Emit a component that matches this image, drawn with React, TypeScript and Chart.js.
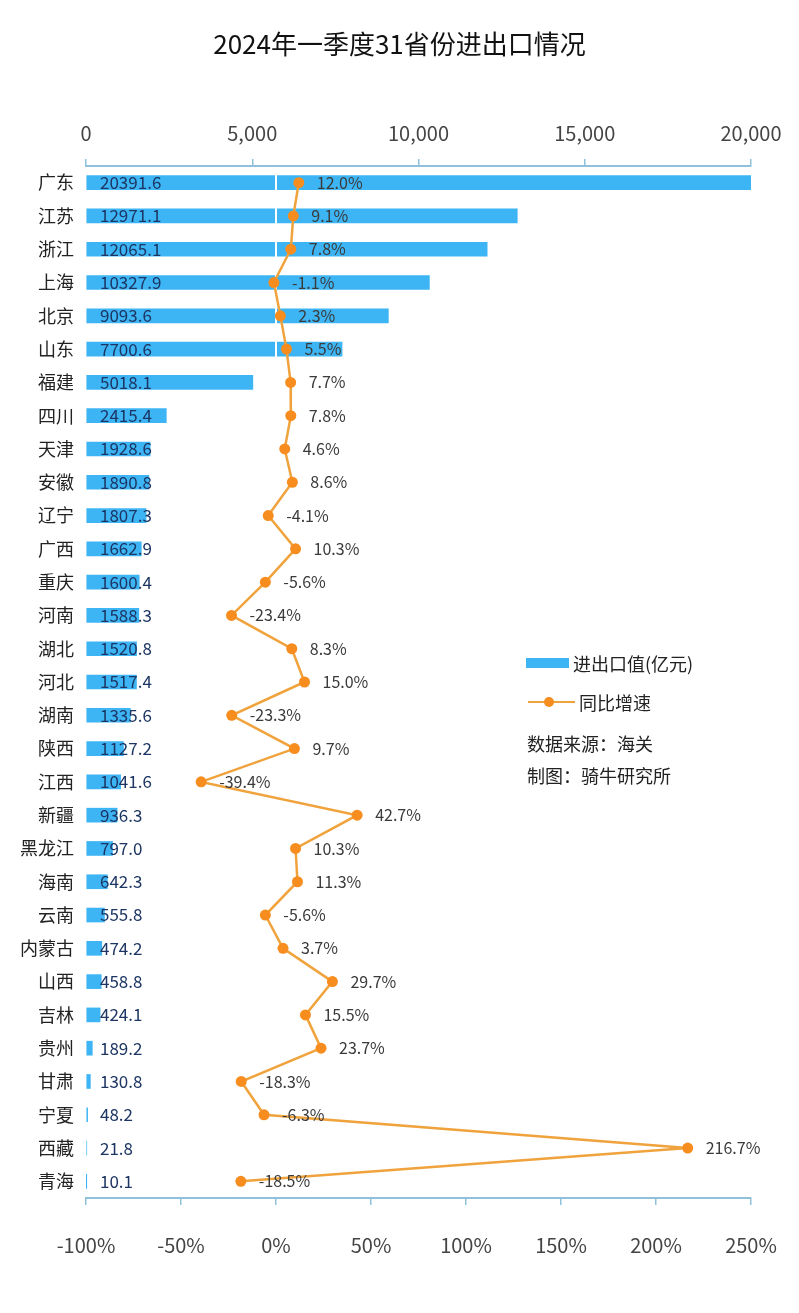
import { useEffect, useRef } from 'react';
import { Chart, registerables } from 'chart.js';

Chart.register(...registerables);

const FONT = "'Noto Sans CJK SC', 'Noto Sans', sans-serif";

const titleText = '2024年一季度31省份进出口情况';

const provinces = [
  '广东', '江苏', '浙江', '上海', '北京', '山东', '福建', '四川', '天津', '安徽',
  '辽宁', '广西', '重庆', '河南', '湖北', '河北', '湖南', '陕西', '江西', '新疆',
  '黑龙江', '海南', '云南', '内蒙古', '山西', '吉林', '贵州', '甘肃', '宁夏', '西藏', '青海',
];

const tradeValues = [
  20391.6, 12971.1, 12065.1, 10327.9, 9093.6, 7700.6, 5018.1, 2415.4, 1928.6, 1890.8,
  1807.3, 1662.9, 1600.4, 1588.3, 1520.8, 1517.4, 1335.6, 1127.2, 1041.6, 936.3,
  797.0, 642.3, 555.8, 474.2, 458.8, 424.1, 189.2, 130.8, 48.2, 21.8, 10.1,
];

const growthRates = [
  12.0, 9.1, 7.8, -1.1, 2.3, 5.5, 7.7, 7.8, 4.6, 8.6,
  -4.1, 10.3, -5.6, -23.4, 8.3, 15.0, -23.3, 9.7, -39.4, 42.7,
  10.3, 11.3, -5.6, 3.7, 29.7, 15.5, 23.7, -18.3, -6.3, 216.7, -18.5,
];

const valueAxisTicks = [0, 5000, 10000, 15000, 20000];
const growthAxisTicks = [-100, -50, 0, 50, 100, 150, 200, 250];

const legendBarLabel = '进出口值(亿元)';
const legendLineLabel = '同比增速';
const sourceNote = '数据来源：海关';
const makerNote = '制图：骑牛研究所';

const AXIS_COLOR = '#8fc2da';
const BAR_COLOR = '#3db5f4';
const LINE_COLOR = '#f0a33c';
const POINT_COLOR = '#f68d1e';

export default function App() {
  const ref = useRef<HTMLCanvasElement>(null);

  useEffect(() => {
    if (!ref.current) return;

    const labelPlugin = {
      id: 'valueLabels',
      afterDatasetDraw(chart: any, args: any) {
        if (args.index !== 0) return;
        const ctx = chart.ctx;
        const area = chart.chartArea;
        const x0 = chart.scales.x2.getPixelForValue(0);
        ctx.save();
        ctx.strokeStyle = '#ffffff';
        ctx.lineWidth = 2;
        ctx.beginPath();
        ctx.moveTo(x0, area.top + 2);
        ctx.lineTo(x0, area.bottom - 2);
        ctx.stroke();
        ctx.font = `17px ${FONT}`;
        ctx.fillStyle = '#1c3563';
        ctx.textAlign = 'left';
        ctx.textBaseline = 'middle';
        args.meta.data.forEach((el: any, i: number) => {
          ctx.fillText(tradeValues[i].toFixed(1), area.left + 14, el.y);
        });
        ctx.restore();
      },
      afterDatasetsDraw(chart: any) {
        const ctx = chart.ctx;
        const meta = chart.getDatasetMeta(1);
        ctx.save();
        ctx.font = `16px ${FONT}`;
        ctx.fillStyle = '#3a3a3a';
        ctx.textAlign = 'left';
        ctx.textBaseline = 'middle';
        meta.data.forEach((pt: any, i: number) => {
          ctx.fillText(growthRates[i].toFixed(1) + '%', pt.x + 18, pt.y);
        });
        ctx.restore();
      },
    };

    const chart = new Chart(ref.current, {
      type: 'bar',
      data: {
        labels: provinces,
        datasets: [
          {
            type: 'bar',
            label: legendBarLabel,
            data: tradeValues,
            xAxisID: 'x',
            yAxisID: 'y',
            backgroundColor: BAR_COLOR,
            barThickness: 14,
            order: 1,
          },
          {
            type: 'line',
            label: legendLineLabel,
            data: growthRates,
            xAxisID: 'x2',
            yAxisID: 'y',
            borderColor: LINE_COLOR,
            borderWidth: 2.5,
            pointRadius: 5.5,
            pointBackgroundColor: POINT_COLOR,
            pointBorderColor: POINT_COLOR,
            pointBorderWidth: 0,
            tension: 0,
            order: 0,
          },
        ],
      } as any,
      options: {
        indexAxis: 'y',
        responsive: false,
        animation: false,
        layout: { padding: { top: 0, right: 48, bottom: 0, left: 0 } },
        plugins: {
          legend: { display: false },
          title: { display: false },
          tooltip: { enabled: false },
        },
        scales: {
          x: {
            type: 'linear',
            position: 'top',
            min: 0,
            max: 20000,
            afterBuildTicks: (scale: any) => {
              scale.ticks = valueAxisTicks.map((v) => ({ value: v }));
            },
            afterFit: (scale: any) => {
              scale.height = 166;
              scale.paddingLeft = 0;
              scale.paddingRight = 0;
            },
            ticks: {
              padding: 14,
              color: '#444444',
              font: { family: FONT, size: 20 },
              callback: (v: any) => Number(v).toLocaleString('en-US'),
            },
            grid: {
              drawOnChartArea: false,
              color: AXIS_COLOR,
              tickLength: 7,
              lineWidth: 1.5,
            },
            border: { color: AXIS_COLOR, width: 2 },
          },
          x2: {
            type: 'linear',
            position: 'bottom',
            min: -100,
            max: 250,
            afterBuildTicks: (scale: any) => {
              scale.ticks = growthAxisTicks.map((v) => ({ value: v }));
            },
            afterFit: (scale: any) => {
              scale.height = 115;
              scale.paddingLeft = 0;
              scale.paddingRight = 0;
            },
            ticks: {
              padding: 28,
              color: '#444444',
              font: { family: FONT, size: 20 },
              callback: (v: any) => v + '%',
            },
            grid: {
              drawOnChartArea: false,
              color: AXIS_COLOR,
              tickLength: 7,
              lineWidth: 1.5,
            },
            border: { color: AXIS_COLOR, width: 2 },
          },
          y: {
            type: 'category',
            afterFit: (scale: any) => {
              scale.width = 86;
            },
            ticks: {
              padding: 12,
              color: '#222222',
              font: { family: FONT, size: 18 },
              autoSkip: false,
            },
            grid: { display: false, drawTicks: false },
            border: { display: false },
          },
        },
      } as any,
      plugins: [labelPlugin],
    });

    return () => chart.destroy();
  }, []);

  const textStyle: any = {
    position: 'absolute',
    fontFamily: FONT,
    fontSize: 18,
    lineHeight: '20px',
    color: '#222222',
    whiteSpace: 'nowrap',
  };

  return (
    <div style={{ position: 'absolute', left: 0, top: 0, width: 799, height: 1313, background: '#ffffff' }}>
      <canvas ref={ref} width={799} height={1313} style={{ display: 'block' }} />
      <div
        style={{
          position: 'absolute',
          top: 26,
          left: 0,
          width: 799,
          textAlign: 'center',
          fontFamily: FONT,
          fontSize: 26,
          lineHeight: '34px',
          color: '#111111',
        }}
      >
        {titleText}
      </div>
      <div style={{ position: 'absolute', left: 526, top: 658, width: 43, height: 10, background: BAR_COLOR }} />
      <div style={{ ...textStyle, left: 573, top: 653 }}>{legendBarLabel}</div>
      <div style={{ position: 'absolute', left: 528, top: 701, width: 47, height: 2, background: LINE_COLOR }} />
      <div
        style={{
          position: 'absolute',
          left: 544,
          top: 697,
          width: 10,
          height: 10,
          borderRadius: 5,
          background: POINT_COLOR,
        }}
      />
      <div style={{ ...textStyle, left: 579, top: 692 }}>{legendLineLabel}</div>
      <div style={{ ...textStyle, left: 527, top: 733 }}>{sourceNote}</div>
      <div style={{ ...textStyle, left: 527, top: 765 }}>{makerNote}</div>
    </div>
  );
}
